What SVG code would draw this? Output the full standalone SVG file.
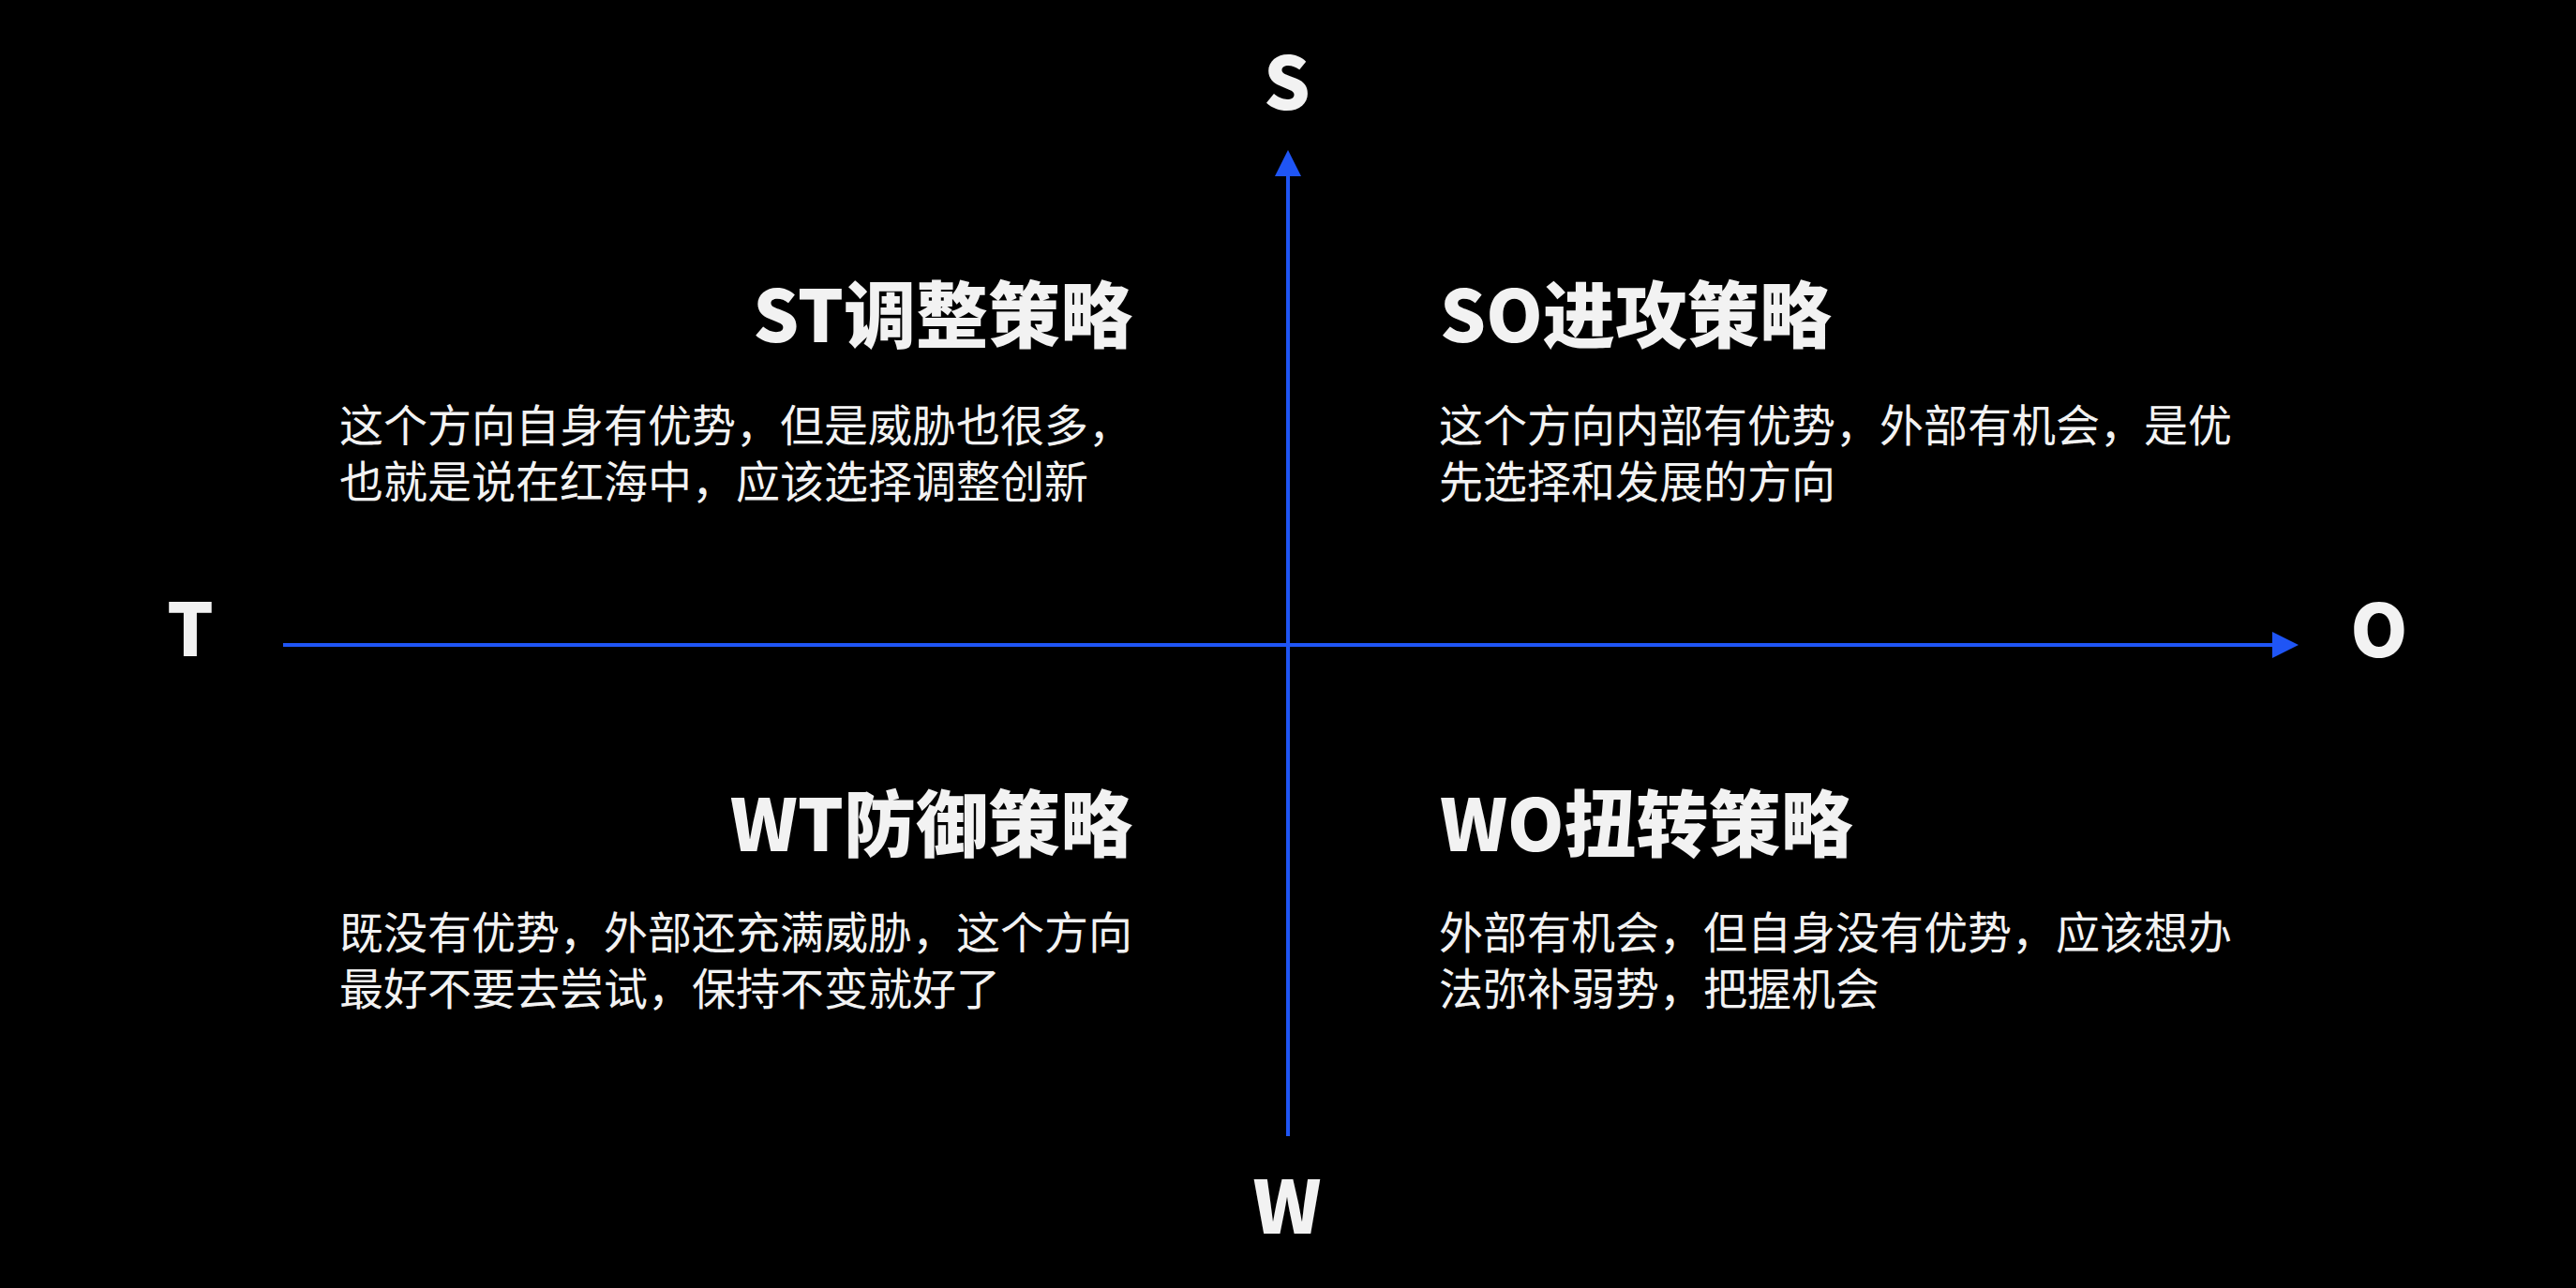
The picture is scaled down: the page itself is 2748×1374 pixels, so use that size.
<svg xmlns="http://www.w3.org/2000/svg" width="2748" height="1374" viewBox="0 0 2748 1374">
  <style>
    .axis { fill: #f2f2f2; font-family: "Noto Sans CJK SC", "Noto Sans", sans-serif; font-weight: 900; font-size: 78px; text-anchor: middle; }
    .title { fill: #f2f2f2; font-family: "Noto Sans CJK SC", "Noto Sans", sans-serif; font-weight: 900; font-size: 77px; }
    .body { fill: #f2f2f2; font-family: "Noto Sans CJK SC", "Noto Sans", sans-serif; font-weight: 400; font-size: 47px; }
    .end { text-anchor: end; }
    .line { stroke: #1f55f5; stroke-width: 4; fill: none; }
  </style>
  <defs>
    <marker id="arrow" markerUnits="userSpaceOnUse" markerWidth="28" markerHeight="28" refX="0" refY="14" orient="auto" viewBox="0 0 28 28">
      <path d="M0,0 L28,14 L0,28 Z" fill="#1f55f5"/>
    </marker>
  </defs>
  <rect x="0" y="0" width="2748" height="1374" fill="#000000"/>

  <g id="connectors">
    <path class="line" d="M1374,1212 L1374,188" marker-end="url(#arrow)"/>
    <path class="line" d="M302,688 L2424,688" marker-end="url(#arrow)"/>
  </g>

  <g id="label-S"><text class="axis" x="1373" y="117">S</text></g>
  <g id="label-T"><text class="axis" x="203" y="700">T</text></g>
  <g id="label-O"><text class="axis" x="2538" y="701">O</text></g>
  <g id="label-W"><text class="axis" x="1373" y="1316">W</text></g>

  <g id="quadrant-ST">
    <text class="title end" x="1208" y="365">ST调整策略</text>
    <text class="body" x="362" y="471">这个方向自身有优势，但是威胁也很多，<tspan x="362" y="531">也就是说在红海中，应该选择调整创新</tspan></text>
  </g>

  <g id="quadrant-SO">
    <text class="title" x="1536" y="365">SO进攻策略</text>
    <text class="body" x="1535" y="471">这个方向内部有优势，外部有机会，是优<tspan x="1535" y="531">先选择和发展的方向</tspan></text>
  </g>

  <g id="quadrant-WT">
    <text class="title end" x="1208" y="908">WT防御策略</text>
    <text class="body" x="362" y="1012">既没有优势，外部还充满威胁，这个方向<tspan x="362" y="1072">最好不要去尝试，保持不变就好了</tspan></text>
  </g>

  <g id="quadrant-WO">
    <text class="title" x="1536" y="908">WO扭转策略</text>
    <text class="body" x="1535" y="1012">外部有机会，但自身没有优势，应该想办<tspan x="1535" y="1072">法弥补弱势，把握机会</tspan></text>
  </g>
</svg>
